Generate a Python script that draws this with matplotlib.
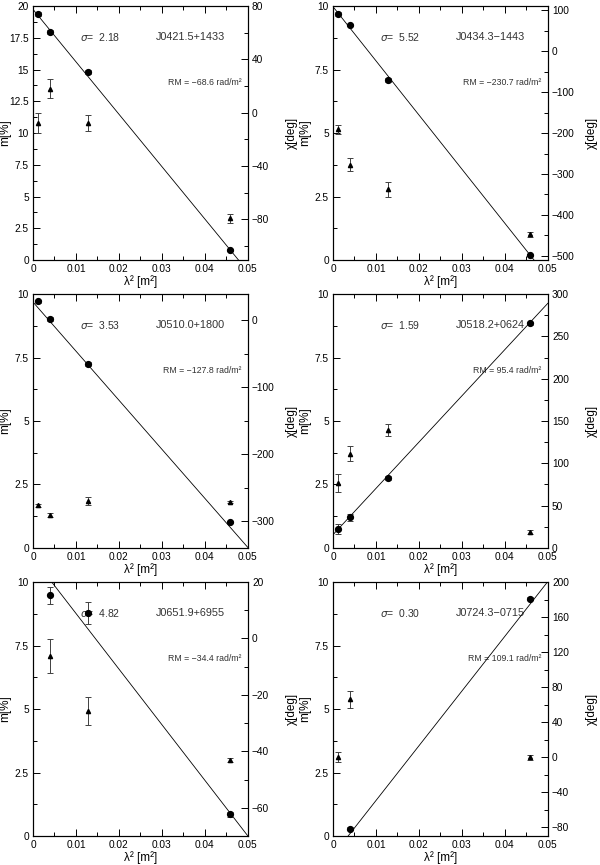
import matplotlib
matplotlib.use('Agg')
import matplotlib.pyplot as plt
from matplotlib.ticker import MultipleLocator
import numpy as np

plt.rcParams['font.family'] = ['Liberation Sans', 'DejaVu Sans']

# source info
names = ['J0421.5+1433', 'J0434.3\u22121443', 'J0510.0+1800',
         'J0518.2+0624', 'J0651.9+6955', 'J0724.3\u22120715']
sigmas = ['2.18', '5.52', '3.53', '1.59', '4.82', '0.30']
rms = [-68.6, -230.7, -127.8, 95.4, -34.4, 109.1]
chi0 = [77.5, 108.5, 27.0, 15.7, 28.6, -112.0]   # fit intercept [deg]

# axis ranges / ticks
m_lims = [(0, 20), (0, 10), (0, 10), (0, 10), (0, 10), (0, 10)]
chi_lims = [(-110.5, 80), (-510, 110), (-340, 39), (0, 300), (-70, 20), (-90, 200)]
chi_major = [40, 100, 100, 50, 20, 40]

# polarization angle (circles)
chi_lam2 = [[0.00125, 0.0039, 0.0129, 0.0459],
            [0.00125, 0.0039, 0.0129, 0.0459],
            [0.00125, 0.0039, 0.0129, 0.0459],
            [0.00125, 0.0039, 0.0129, 0.0459],
            [0.0039, 0.0129, 0.0459],
            [0.0039, 0.0459]]
chi_val = [[74.0, 60.8, 30.8, -103.0],
           [90.4, 63.5, -70.8, -498.4],
           [28.3, 1.5, -65.4, -301.4],
           [22.8, 36.2, 82.6, 265.4],
           [15.3, 9.2, -62.3],
           [-81.6, 181.1]]
chi_err = [[1.5, 1.5, 1.5, 1.0],
           [4.0, 3.0, 4.0, 2.0],
           [2.0, 3.0, 3.0, 2.0],
           [6.0, 4.0, 2.0, 2.0],
           [3.1, 3.9, 0.8],
           [2.0, 2.0]]

# fractional polarization (triangles)
m_lam2 = [[0.00125, 0.0039, 0.0129, 0.0459],
          [0.00125, 0.0039, 0.0129, 0.0459],
          [0.00125, 0.0039, 0.0129, 0.0459],
          [0.00125, 0.0039, 0.0129, 0.0459],
          [0.0039, 0.0129, 0.0459],
          [0.00125, 0.0039, 0.0459]]
m_val = [[10.8, 13.5, 10.8, 3.3],
         [5.14, 3.76, 2.78, 1.01],
         [1.68, 1.31, 1.86, 1.81],
         [2.56, 3.71, 4.65, 0.62],
         [7.09, 4.93, 3.0],
         [3.10, 5.39, 3.10]]
m_err = [[0.8, 0.75, 0.65, 0.35],
         [0.17, 0.25, 0.28, 0.11],
         [0.05, 0.08, 0.15, 0.05],
         [0.35, 0.3, 0.25, 0.07],
         [0.67, 0.54, 0.08],
         [0.2, 0.33, 0.1]]

fig = plt.figure(figsize=(6, 8.65), dpi=100)
lefts = [0.055, 0.555]
bottoms = [0.6994, 0.3665, 0.0335]
w, h = 0.358, 0.2936

for i in range(6):
    ax = fig.add_axes([lefts[i % 2], bottoms[i // 2], w, h])
    ax2 = ax.twinx()

    # m on left axis
    ax.errorbar(m_lam2[i], m_val[i], yerr=m_err[i], fmt='^', color='black',
                ms=3, ecolor='0.25', elinewidth=0.7, capsize=2, capthick=0.7)
    # chi on right axis + RM fit
    xx = np.array([0.0, 0.05])
    ax2.plot(xx, chi0[i] + rms[i] * xx * 180 / np.pi, color='black', lw=0.6)
    ax2.errorbar(chi_lam2[i], chi_val[i], yerr=chi_err[i], fmt='o', color='black',
                 ms=4.2, ecolor='0.25', elinewidth=0.7, capsize=2, capthick=0.7)

    ax.set_xlim(0, 0.05)
    ax.set_ylim(*m_lims[i])
    ax2.set_ylim(*chi_lims[i])

    ax.xaxis.set_major_locator(MultipleLocator(0.01))
    ax.xaxis.set_minor_locator(MultipleLocator(0.005))
    ax.yaxis.set_major_locator(MultipleLocator(2.5))
    ax.yaxis.set_minor_locator(MultipleLocator(1.25))
    ax2.yaxis.set_major_locator(MultipleLocator(chi_major[i]))
    ax2.yaxis.set_minor_locator(MultipleLocator(chi_major[i] / 2))
    ax.xaxis.set_major_formatter(plt.FuncFormatter(lambda v, p: '0' if abs(v) < 1e-9 else '%g' % round(v, 3)))
    ax.yaxis.set_major_formatter(plt.FuncFormatter(lambda v, p: '%g' % v))

    ax.tick_params(which='both', direction='in', top=True, right=False,
                   labelsize=7.3, pad=3, width=0.7)
    ax.tick_params(which='major', length=5)
    ax.tick_params(which='minor', length=3)
    ax2.tick_params(which='both', direction='in', labelsize=7.3, pad=3, width=0.7)
    ax2.tick_params(which='major', length=5)
    ax2.tick_params(which='minor', length=3)
    for a in (ax, ax2):
        for s in a.spines.values():
            s.set_linewidth(0.8)

    ax.set_xlabel('\u03bb\u00b2 [m\u00b2]', fontsize=8.5)
    ax.xaxis.set_label_coords(0.5, -0.06)
    ax.set_ylabel('m[%]', fontsize=8.5)
    ax.yaxis.set_label_coords(-0.10, 0.5)
    ax2.set_ylabel('\u03c7[deg]', fontsize=8.5, rotation=90)
    ax2.yaxis.set_label_coords(1.178, 0.5)

    ax.text(0.217, 0.878, '$\\sigma$=  ' + sigmas[i], transform=ax.transAxes,
            fontsize=7.5, color='0.2', va='center', ha='left')
    ax.text(0.574, 0.878, names[i], transform=ax.transAxes,
            fontsize=7.8, color='0.2', va='center', ha='left')
    rm_txt = 'RM = %s rad/m\u00b2' % ('%.1f' % rms[i]).replace('-', '\u2212')
    ax.text(0.969, 0.70, rm_txt, transform=ax.transAxes,
            fontsize=6.3, color='0.2', va='center', ha='right')

plt.savefig('out.png', dpi=100)
